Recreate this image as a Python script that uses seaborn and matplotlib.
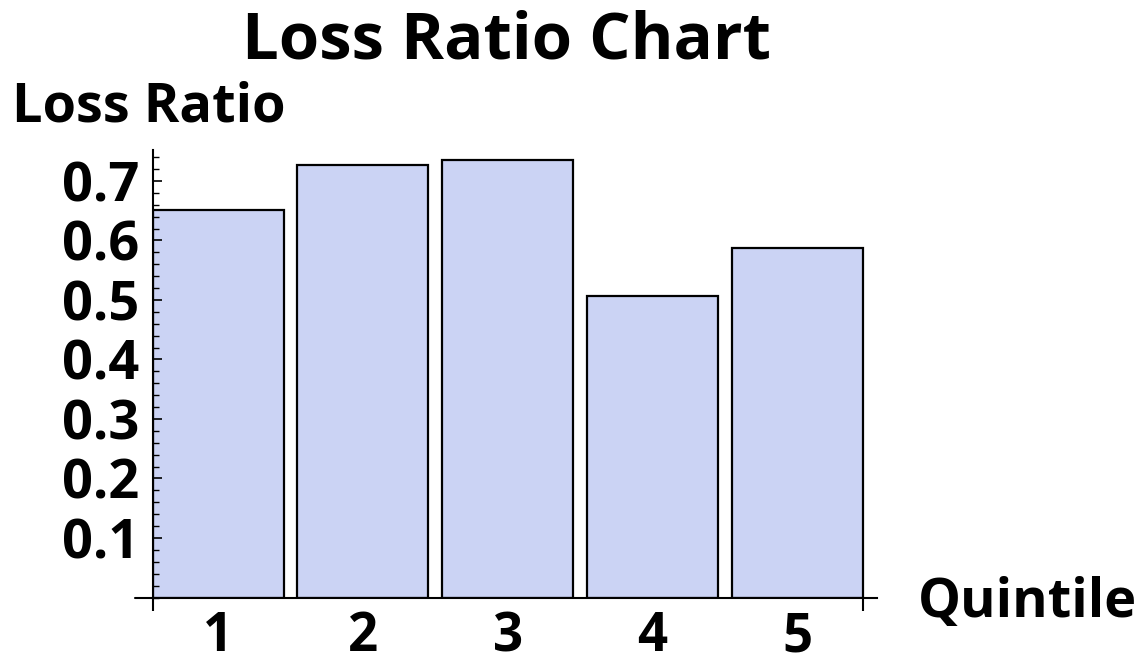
import matplotlib
matplotlib.use("Agg")
import matplotlib.pyplot as plt
import seaborn as sns
import pandas as pd
from matplotlib.ticker import MultipleLocator, FixedLocator

# values
quintiles = ["1", "2", "3", "4", "5"]
loss_ratio = [0.651, 0.727, 0.736, 0.507, 0.588]
ytick_values = [0.1, 0.2, 0.3, 0.4, 0.5, 0.6, 0.7]
ytick_labels = ["0.1", "0.2", "0.3", "0.4", "0.5", "0.6", "0.7"]

sns.set_theme(style="white")
plt.rcParams["font.family"] = ["Open Sans", "DejaVu Sans"]
plt.rcParams["text.color"] = "black"
plt.rcParams["xtick.color"] = "black"
plt.rcParams["ytick.color"] = "black"

df = pd.DataFrame({"Quintile": quintiles, "LossRatio": loss_ratio})

fig = plt.figure(figsize=(11.48, 6.59), dpi=100)
ax = fig.add_axes([153 / 1148, 1 - 597.5 / 659, 724 / 1148, 447.5 / 659])

sns.barplot(data=df, x="Quintile", y="LossRatio", ax=ax, color="#cbd3f4",
            saturation=1, width=0.905, edgecolor="black", linewidth=1.6)
ax.set_axisbelow(False)  # ticks drawn over the bars

ax.set_xlim(-0.45, 4.55)
ax.set_ylim(0, 0.752)
ax.set_xlabel("")
ax.set_ylabel("")

for side in ["top", "right"]:
    ax.spines[side].set_visible(False)
for side in ["left", "bottom"]:
    ax.spines[side].set_color("black")
    ax.spines[side].set_linewidth(1.5)

# y ticks: major every 0.1, minor every 0.02, all pointing inwards
ax.yaxis.set_major_locator(FixedLocator(ytick_values))
ax.set_yticklabels(ytick_labels, fontweight="bold")
ax.yaxis.set_minor_locator(MultipleLocator(0.02))
ax.tick_params(axis="y", which="major", direction="in", length=6.5, width=1.2,
               left=True, pad=10, labelsize=39)
ax.tick_params(axis="y", which="minor", direction="in", length=4.3, width=1.0,
               left=True)

# x ticks: labels only at bar centres, end marks at bar edges
ax.set_xticks(range(5))
ax.set_xticklabels(quintiles, fontweight="bold")
ax.set_xticks([-0.45, 4.45], minor=True)
ax.tick_params(axis="x", which="major", length=0, pad=9, labelsize=38)
ax.tick_params(axis="x", which="minor", direction="out", length=9, width=1.5,
               bottom=True)

# short extension of the x axis to the left of the y axis
ax.plot([-0.025, 0], [0, 0], transform=ax.transAxes, clip_on=False,
        color="black", lw=1.5)

fig.text(506 / 1148, 1 - 42 / 659, "Loss Ratio Chart", ha="center", va="center",
         fontsize=47, fontweight="bold")
fig.text(12 / 1148, 1 - 107 / 659, "Loss Ratio", ha="left", va="center",
         fontsize=39, fontweight="bold")
fig.text(918 / 1148, 1 - 603 / 659, "Quintile", ha="left", va="center",
         fontsize=39, fontweight="bold")

fig.savefig("out.png", dpi=100)
